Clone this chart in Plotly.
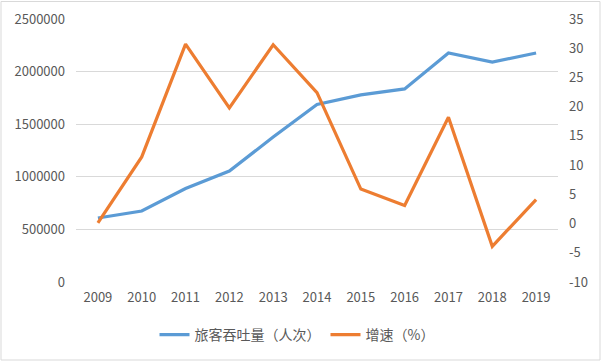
import plotly.graph_objects as go

years = ["2009", "2010", "2011", "2012", "2013", "2014", "2015", "2016", "2017", "2018", "2019"]
passengers = [608000, 675000, 888000, 1055000, 1378000, 1688000, 1778000, 1835000, 2177000, 2091000, 2177000]
growth = [0.1, 11.4, 30.7, 19.8, 30.6, 22.4, 5.9, 3.1, 18.2, -3.9, 4.1]
left_ticks = [0, 500000, 1000000, 1500000, 2000000, 2500000]
left_labels = ["0", "500000", "1000000", "1500000", "2000000", "2500000"]
right_ticks = [-10, -5, 0, 5, 10, 15, 20, 25, 30, 35]
right_labels = ["-10", "-5", "0", "5", "10", "15", "20", "25", "30", "35"]

name1 = "旅客吞吐量（人次）"
name2 = "增速（%）"

W, H = 602, 362
L, R, T, B = 76, 44, 19, 80
pw, ph = W - L - R, H - T - B

fig = go.Figure()
fig.add_trace(go.Scatter(x=years, y=passengers, name=name1, mode="lines",
                         line=dict(color="#5B9BD5", width=3.2), yaxis="y"))
fig.add_trace(go.Scatter(x=years, y=growth, name=name2, mode="lines",
                         line=dict(color="#ED7D31", width=3.2), yaxis="y2"))

tickfont = dict(family="Noto Sans CJK SC, Noto Sans, sans-serif", size=13, color="#595959")

fig.update_layout(
    width=W, height=H,
    margin=dict(l=L, r=R, t=T, b=B, autoexpand=False),
    paper_bgcolor="white", plot_bgcolor="white",
    showlegend=True,
    hovermode=False,
    xaxis=dict(type="category", range=[-0.5, 10.5], showgrid=False, zeroline=False,
               showline=False, ticks="", tickfont=tickfont, ticklabelstandoff=6),
    yaxis=dict(range=[0, 2500000], tickmode="array", tickvals=left_ticks, ticktext=left_labels,
               showgrid=True, gridcolor="#d9d9d9", gridwidth=1, zeroline=False, showline=False,
               ticks="", tickfont=tickfont, ticklabelstandoff=10),
    yaxis2=dict(range=[-10, 35], tickmode="array", tickvals=right_ticks, ticktext=right_labels,
                overlaying="y", side="right", showgrid=False,
                zeroline=False, showline=False, ticks="", tickfont=tickfont,
                ticklabelstandoff=10),
    legend=dict(orientation="h", x=(297 - L) / pw, xanchor="center",
                y=(T + ph - 335) / ph, yanchor="middle",
                font=dict(family="Noto Sans CJK SC, sans-serif", size=14, color="#595959"),
                itemwidth=30, tracegroupgap=0),
    shapes=[dict(type="rect", xref="paper", yref="paper",
                 x0=(1 - L) / pw, x1=(600 - L) / pw,
                 y0=(T + ph - 360) / ph, y1=(T + ph - 1.5) / ph,
                 line=dict(color="#d9d9d9", width=1), fillcolor="rgba(0,0,0,0)", layer="below")],
)

fig.write_html("out.html", config={"displayModeBar": False, "staticPlot": True},
               post_script="document.body.style.margin='0';document.body.style.overflow='hidden';")
